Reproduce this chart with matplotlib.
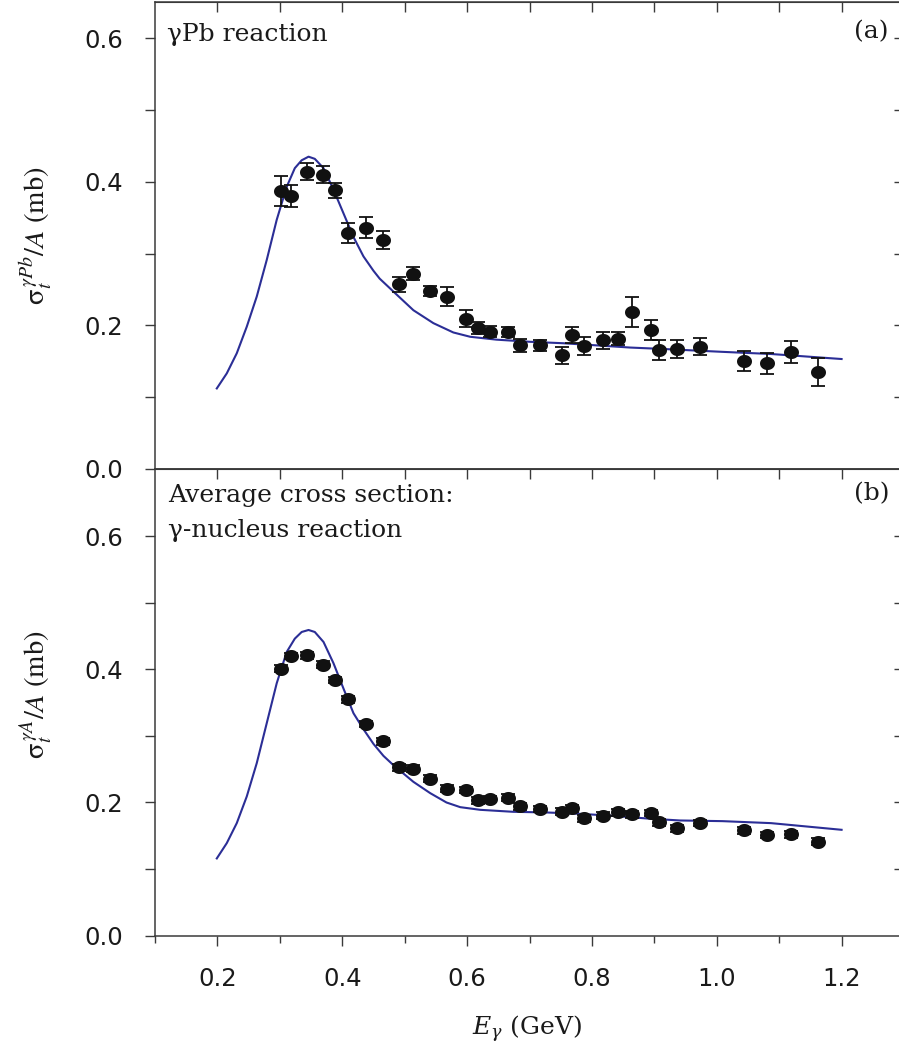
import numpy as np
import matplotlib
matplotlib.use("Agg")
import matplotlib.pyplot as plt
from matplotlib.path import Path
from matplotlib.ticker import MultipleLocator, FixedLocator, NullFormatter

# ---------------- data ----------------
# (a) gamma-Pb
e_pb = [0.302, 0.318, 0.344, 0.369, 0.389, 0.409, 0.438, 0.466, 0.491, 0.514,
        0.541, 0.568, 0.599, 0.618, 0.636, 0.665, 0.685, 0.717, 0.752, 0.768,
        0.788, 0.818, 0.841, 0.865, 0.895, 0.908, 0.936, 0.973, 1.044, 1.081,
        1.119, 1.163]
sig_pb = [0.387, 0.380, 0.414, 0.410, 0.388, 0.329, 0.336, 0.319, 0.257, 0.272,
          0.248, 0.240, 0.209, 0.196, 0.191, 0.191, 0.172, 0.172, 0.158, 0.187,
          0.171, 0.179, 0.181, 0.218, 0.194, 0.166, 0.167, 0.170, 0.150, 0.147,
          0.163, 0.135]
err_pb = [0.021, 0.015, 0.012, 0.012, 0.010, 0.014, 0.015, 0.012, 0.011, 0.009,
          0.007, 0.013, 0.012, 0.008, 0.008, 0.007, 0.009, 0.008, 0.012, 0.011,
          0.012, 0.012, 0.009, 0.021, 0.014, 0.014, 0.012, 0.012, 0.014, 0.015,
          0.015, 0.020]
curve_e_pb = [0.199, 0.215, 0.231, 0.247, 0.263, 0.279, 0.295, 0.311, 0.324, 0.335,
              0.346, 0.356, 0.370, 0.386, 0.402, 0.418, 0.434, 0.450, 0.460, 0.482,
              0.514, 0.546, 0.578, 0.605, 0.647, 0.701, 0.754, 0.808, 0.861, 0.914,
              1.009, 1.087, 1.200]
curve_s_pb = [0.112, 0.133, 0.161, 0.198, 0.240, 0.291, 0.347, 0.393, 0.419, 0.430,
              0.435, 0.432, 0.419, 0.389, 0.356, 0.323, 0.296, 0.276, 0.265, 0.247,
              0.221, 0.203, 0.190, 0.184, 0.180, 0.177, 0.175, 0.172, 0.169, 0.167,
              0.163, 0.160, 0.153]

# (b) average gamma-nucleus
e_av = e_pb
sig_av = [0.401, 0.420, 0.421, 0.407, 0.384, 0.355, 0.318, 0.292, 0.253, 0.251,
          0.236, 0.221, 0.219, 0.203, 0.205, 0.207, 0.194, 0.190, 0.186, 0.191,
          0.176, 0.180, 0.185, 0.182, 0.184, 0.170, 0.161, 0.169, 0.158, 0.151,
          0.152, 0.141]
err_av = [0.005] * 32
curve_e_av = [0.199, 0.215, 0.231, 0.247, 0.263, 0.279, 0.295, 0.311, 0.324, 0.335,
              0.346, 0.356, 0.370, 0.386, 0.402, 0.418, 0.434, 0.450, 0.466, 0.482,
              0.514, 0.541, 0.567, 0.589, 0.621, 0.674, 0.728, 0.781, 0.834, 0.888,
              0.941, 1.009, 1.087, 1.200]
curve_s_av = [0.116, 0.139, 0.169, 0.209, 0.259, 0.319, 0.379, 0.426, 0.446, 0.456,
              0.459, 0.456, 0.441, 0.409, 0.371, 0.334, 0.310, 0.288, 0.270, 0.256,
              0.231, 0.214, 0.200, 0.193, 0.189, 0.186, 0.185, 0.183, 0.180, 0.176,
              0.173, 0.172, 0.169, 0.159]

x_ticks = [0.2, 0.4, 0.6, 0.8, 1.0, 1.2]
x_ticklabels = ["0.2", "0.4", "0.6", "0.8", "1.0", "1.2"]
y_ticks = [0.0, 0.2, 0.4, 0.6]
y_ticklabels = ["0.0", "0.2", "0.4", "0.6"]

# ---------------- style ----------------
W, H = 899, 1053
DPI = 100
fig = plt.figure(figsize=(W / DPI, H / DPI), dpi=DPI)

SPINE = "#3a3a3a"
CURVE = "#2b2e96"
TICKFONT = dict(family="DejaVu Sans", size=17.5)

def fx(px):
    return px / W

def fy(py):
    return 1 - py / H

left_px, right_px = 155, 904
top_px, mid_px, bot_px = 1.7, 468.8, 935.7

ax1 = fig.add_axes([fx(left_px), fy(mid_px), fx(right_px - left_px), (mid_px - top_px) / H])
ax2 = fig.add_axes([fx(left_px), fy(bot_px), fx(right_px - left_px), (bot_px - mid_px) / H])

# ellipse marker (slightly wider than tall)
t = np.linspace(0, 2 * np.pi, 60)
ell = Path(np.column_stack([np.cos(t), 0.87 * np.sin(t)]), closed=True)

def draw(ax, e, s, err, ce, cs, ylim):
    ax.plot(ce, cs, color=CURVE, lw=1.5, zorder=2, solid_joinstyle="round")
    ax.errorbar(e, s, yerr=err, fmt="none", ecolor="#111111", elinewidth=1.3,
                capsize=5.3, capthick=1.3, zorder=3)
    ax.plot(e, s, linestyle="none", marker=ell, markersize=10.8,
            color="#111111", markeredgewidth=0, zorder=4)
    ax.set_xlim(0.1, 1.3)
    ax.set_ylim(*ylim)
    for sp in ax.spines.values():
        sp.set_color(SPINE)
        sp.set_linewidth(1.1)
    # left ticks outward
    ax.yaxis.set_major_locator(FixedLocator(y_ticks))
    ax.yaxis.set_minor_locator(FixedLocator([0.1, 0.3, 0.5]))
    ax.set_yticklabels(y_ticklabels, fontdict=TICKFONT)
    ax.tick_params(axis="y", which="both", direction="out", length=7.2, width=1.0,
                   color=SPINE, pad=15.5, labelcolor="#1a1a1a")
    # right ticks inward
    sec = ax.secondary_yaxis("right")
    sec.yaxis.set_major_locator(FixedLocator([0.1, 0.2, 0.3, 0.4, 0.5, 0.6]))
    sec.yaxis.set_major_formatter(NullFormatter())
    sec.tick_params(direction="in", length=7.2, width=1.0, color=SPINE)
    sec.spines["right"].set_color(SPINE)
    # top ticks inward
    sect = ax.secondary_xaxis("top")
    sect.xaxis.set_major_locator(FixedLocator([0.2, 0.3, 0.4, 0.5, 0.6, 0.7, 0.8,
                                               0.9, 1.0, 1.1, 1.2]))
    sect.xaxis.set_major_formatter(NullFormatter())
    sect.tick_params(direction="in", length=7.5, width=1.0, color=SPINE)
    sect.spines["top"].set_color(SPINE)

draw(ax1, e_pb, sig_pb, err_pb, curve_e_pb, curve_s_pb, (0.0, 0.651))
draw(ax2, e_av, sig_av, err_av, curve_e_av, curve_s_av, (0.0, 0.701))

# x axis of top panel: no bottom ticks
ax1.tick_params(axis="x", which="both", bottom=False, labelbottom=False)
# bottom panel x axis
ax2.xaxis.set_major_locator(FixedLocator(x_ticks))
ax2.xaxis.set_minor_locator(MultipleLocator(0.1))
ax2.set_xticklabels(x_ticklabels, fontdict=TICKFONT)
ax2.tick_params(axis="x", which="major", direction="out", length=7.2, width=1.0,
                color=SPINE, pad=15, labelcolor="#1a1a1a")
ax2.tick_params(axis="x", which="minor", direction="out", length=5, width=1.0,
                color=SPINE)

# ---------------- texts ----------------
SERIF = dict(family="DejaVu Serif", size=18, color="#1a1a1a")
fig.text(fx(167), fy(40.5), "\u03b3Pb reaction", ha="left", va="baseline", **SERIF)
fig.text(fx(889), fy(38), "(a)", ha="right", va="baseline", **SERIF)
fig.text(fx(168), fy(502), "Average cross section:", ha="left", va="baseline", **SERIF)
fig.text(fx(168), fy(537), "\u03b3-nucleus reaction", ha="left", va="baseline", **SERIF)
fig.text(fx(890), fy(500), "(b)", ha="right", va="baseline", **SERIF)

fig.text(fx(36), fy(236), r"$\mathregular{\sigma}_t^{\,\gamma Pb}/A$ (mb)",
         rotation=90, ha="center", va="center", family="STIXGeneral",
         math_fontfamily="stix", size=20.5, color="#1a1a1a")
fig.text(fx(36), fy(695), r"$\mathregular{\sigma}_t^{\,\gamma A}/A$ (mb)",
         rotation=90, ha="center", va="center", family="STIXGeneral",
         math_fontfamily="stix", size=20.5, color="#1a1a1a")
fig.text(fx(527), fy(1035), r"$E_\gamma$ (GeV)", ha="center", va="baseline",
         family="DejaVu Serif", math_fontfamily="dejavuserif", size=18, color="#1a1a1a")

fig.savefig("out.png", dpi=DPI)
